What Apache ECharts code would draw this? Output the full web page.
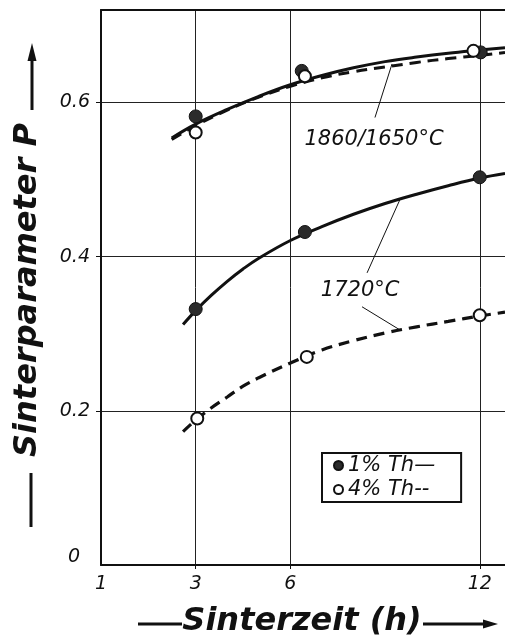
<!DOCTYPE html>
<html>
<head>
<meta charset="utf-8">
<script src="https://cdn.jsdelivr.net/npm/echarts@6/dist/echarts.min.js"></script>
<style>
  html, body { margin: 0; padding: 0; background: #fff; }
  #chart { width: 505px; height: 644px; }
</style>
</head>
<body>
<div id="chart"></div>
<script>
// Axis ticks (the origin of the time axis is labelled "1")
const xTickValues = [0, 3, 6, 12];
const xTickLabels = ['1', '3', '6', '12'];
const xGridValues = [3, 6, 12];
const yTickValues = [0, 0.2, 0.4, 0.6];
const yGridValues = [0.2, 0.4, 0.6];

// Measured points: [Sinterzeit, P]
const th1Points = [[3, 0.582], [6.36, 0.641], [12.03, 0.665], [3, 0.332], [6.46, 0.432], [12, 0.503]];
const th4Points = [[3, 0.561], [6.46, 0.634], [11.8, 0.667], [3.05, 0.19], [6.52, 0.27], [12, 0.324]];

// Fitted curves
const curve1860Th1 = [[2.24, 0.554], [3, 0.572], [4, 0.591], [5, 0.608], [6, 0.623], [7, 0.635], [8, 0.645], [9, 0.653], [10, 0.659], [11, 0.664], [12, 0.668], [12.8, 0.671]];
const curve1860Th4 = [[2.24, 0.552], [3, 0.570], [4, 0.590], [5, 0.607], [6, 0.621], [7, 0.632], [8, 0.640], [9, 0.646], [10, 0.652], [11, 0.657], [12, 0.661], [12.8, 0.665]];
const curve1720Th1 = [[2.6, 0.312], [3, 0.330], [3.5, 0.350], [4, 0.368], [4.5, 0.384], [5, 0.398], [6, 0.421], [7, 0.439], [8, 0.455], [9, 0.469], [10, 0.481], [11, 0.492], [12, 0.502], [12.8, 0.508]];
const curve1720Th4 = [[2.6, 0.173], [3, 0.188], [3.5, 0.204], [4, 0.218], [4.5, 0.232], [5, 0.243], [6, 0.262], [7, 0.279], [8, 0.291], [9, 0.301], [10, 0.309], [11, 0.316], [12, 0.323], [12.8, 0.328]];

// Curve annotations: text anchor and leader line in data units
const curveLabels = [
  { name: '1860/1650°C', at: [8.65, 0.552] },
  { name: '1720°C', at: [8.21, 0.356] }
];
const leaderLines = [
  [[8.68, 0.5805], [9.22, 0.650]],
  [[8.43, 0.379], [9.47, 0.474]],
  [[8.27, 0.335], [9.47, 0.305]]
];

const legendNames = ['1% Th', '4% Th'];
const legendMarks = { '1% Th': '—', '4% Th': '--' };

const INK = '#111';
const FONT = 'DejaVu Sans';

const chart = echarts.init(document.getElementById('chart'), null, { renderer: 'canvas' });

function curveSeries(name, data, dashed, width) {
  return {
    name: name,
    type: 'line',
    data: data,
    smooth: 0.4,
    showSymbol: false,
    symbol: 'none',
    silent: true,
    z: 2,
    lineStyle: { color: INK, width: width, type: dashed ? [11, 7] : 'solid', cap: 'butt' }
  };
}

const option = {
  backgroundColor: '#fff',
  animation: false,
  grid: { left: 101, right: 0, top: 10, bottom: 79, containLabel: false, outerBoundsMode: 'none' },
  legend: {
    data: [{ name: legendNames[0], icon: 'circle' }, { name: legendNames[1], icon: 'circle' }],
    orient: 'vertical',
    left: 322,
    top: 453,
    padding: [2, 26, 2, 11],
    itemWidth: 9,
    itemHeight: 9,
    itemGap: 3,
    borderColor: INK,
    borderWidth: 2,
    borderRadius: 0,
    selectedMode: false,
    formatter: function (name) { return name + legendMarks[name]; },
    textStyle: { fontFamily: FONT, fontStyle: 'italic', fontSize: 21, color: INK }
  },
  xAxis: [{
    type: 'value',
    min: 0,
    max: 12.8,
    interval: 3,
    axisLine: { show: true, onZero: false, lineStyle: { color: INK, width: 2 } },
    axisTick: { show: true, inside: false, length: 4, customValues: xGridValues, lineStyle: { color: INK, width: 1 } },
    axisLabel: {
      customValues: xTickValues,
      margin: 10,
      formatter: function (v) { return xTickLabels[xTickValues.indexOf(v)]; },
      fontFamily: FONT, fontStyle: 'italic', fontSize: 19, color: INK
    },
    splitLine: { show: true, lineStyle: { color: '#222', width: 1 } }
  }, {
    type: 'value',
    position: 'top',
    min: 0,
    max: 12.8,
    axisLine: { show: true, onZero: false, lineStyle: { color: INK, width: 2 } },
    axisTick: { show: false },
    axisLabel: { show: false },
    splitLine: { show: false }
  }],
  yAxis: {
    type: 'value',
    min: 0,
    max: 0.72,
    interval: 0.2,
    axisLine: { show: true, onZero: false, lineStyle: { color: INK, width: 2 } },
    axisTick: { show: true, inside: false, length: 5, customValues: yGridValues, lineStyle: { color: INK, width: 1 } },
    axisLabel: {
      customValues: yTickValues,
      margin: 11,
      formatter: function (v) { return v === 0 ? '{z|0}' : v.toFixed(1); },
      fontFamily: FONT, fontStyle: 'italic', fontSize: 19, color: INK,
      rich: { z: { fontFamily: FONT, fontStyle: 'italic', fontSize: 19, color: INK, padding: [0, 10, 16, 0] } }
    },
    splitLine: { show: true, lineStyle: { color: '#222', width: 1 } }
  },
  series: [
    Object.assign(curveSeries('1860/1650 1%', curve1860Th1, false, 3), {
      markPoint: {
        symbol: 'circle',
        symbolSize: 0,
        silent: true,
        label: { show: true, position: 'inside', formatter: '{b}', fontFamily: FONT, fontStyle: 'italic', fontSize: 21, color: INK },
        data: curveLabels.map(function (c) { return { name: c.name, coord: c.at }; })
      },
      markLine: {
        symbol: ['none', 'none'],
        silent: true,
        label: { show: false },
        lineStyle: { color: INK, width: 1, type: 'solid' },
        data: leaderLines.map(function (l) { return [{ coord: l[0] }, { coord: l[1] }]; })
      }
    }),
    curveSeries('1860/1650 4%', curve1860Th4, true, 3),
    curveSeries('1720 1%', curve1720Th1, false, 3),
    curveSeries('1720 4%', curve1720Th4, true, 3.2),
    {
      name: legendNames[0],
      type: 'scatter',
      data: th1Points,
      symbol: 'circle',
      symbolSize: 13,
      z: 4,
      itemStyle: { color: '#2b2b2b', borderColor: INK, borderWidth: 1, opacity: 1 }
    },
    {
      name: legendNames[1],
      type: 'scatter',
      data: th4Points,
      symbol: 'circle',
      symbolSize: 12,
      z: 5,
      itemStyle: { color: '#fff', borderColor: INK, borderWidth: 2, opacity: 1 }
    }
  ],
  graphic: [
    // x axis title with lead-in dash and arrow
    { type: 'line', silent: true, shape: { x1: 138, y1: 624, x2: 182, y2: 624 }, style: { stroke: INK, lineWidth: 3 } },
    { type: 'text', silent: true, x: 302, y: 622,
      style: { text: 'Sinterzeit (h)', fontFamily: FONT, fontStyle: 'italic', fontWeight: 'bold', fontSize: 32, fill: INK, align: 'center', verticalAlign: 'middle' } },
    { type: 'line', silent: true, shape: { x1: 423, y1: 624, x2: 486, y2: 624 }, style: { stroke: INK, lineWidth: 3 } },
    { type: 'polygon', silent: true, shape: { points: [[483, 619.5], [498, 624], [483, 628.5]] }, style: { fill: INK } },
    // y axis title with lead-in dash and arrow
    { type: 'line', silent: true, shape: { x1: 31, y1: 527, x2: 31, y2: 473 }, style: { stroke: INK, lineWidth: 3 } },
    { type: 'text', silent: true, x: 28, y: 290, rotation: Math.PI / 2,
      style: { text: 'Sinterparameter P', fontFamily: FONT, fontStyle: 'italic', fontWeight: 'bold', fontSize: 32, fill: INK, align: 'center', verticalAlign: 'middle' } },
    { type: 'line', silent: true, shape: { x1: 32, y1: 110, x2: 32, y2: 58 }, style: { stroke: INK, lineWidth: 3 } },
    { type: 'polygon', silent: true, shape: { points: [[27.5, 61], [32, 43], [36.5, 61]] }, style: { fill: INK } }
  ]
};

chart.setOption(option);
</script>
</body>
</html>
